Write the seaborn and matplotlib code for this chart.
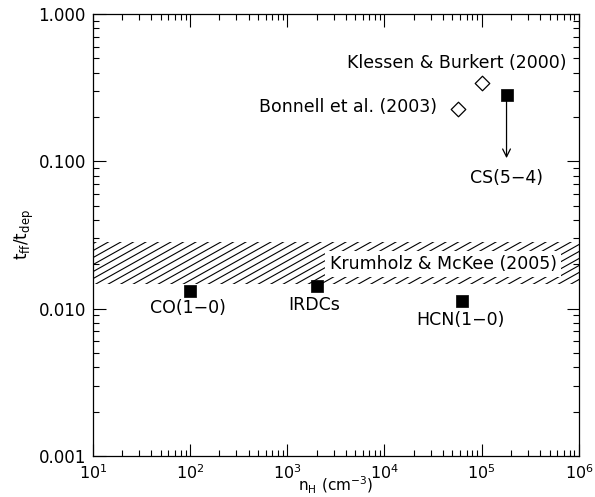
import numpy as np
import pandas as pd
import matplotlib
matplotlib.use('Agg')
import matplotlib.pyplot as plt
from matplotlib.collections import LineCollection
import seaborn as sns

# observations (filled squares)
obs_names = ['CO(1−0)', 'IRDCs', 'HCN(1−0)', 'CS(5−4)']
obs_n = [1.0e2, 2.0e3, 6.2e4, 1.8e5]
obs_ratio = [0.0132, 0.0142, 0.0113, 0.28]

# simulations (open diamonds)
sim_names = ['Klessen & Burkert (2000)', 'Bonnell et al. (2003)']
sim_n = [1.0e5, 5.7e4]
sim_ratio = [0.34, 0.225]

# theory band (Krumholz & McKee 2005)
band_name = 'Krumholz & McKee (2005)'
band_lo, band_hi = 0.0146, 0.0282
cs_limit = 0.105

sns.set_style('ticks')
plt.rcParams['font.family'] = ['DejaVu Sans']
for k in ['text.color', 'axes.labelcolor', 'xtick.color', 'ytick.color', 'axes.edgecolor']:
    plt.rcParams[k] = 'black'

obs = pd.DataFrame({'n': obs_n, 'r': obs_ratio, 'name': obs_names})
sim = pd.DataFrame({'n': sim_n, 'r': sim_ratio, 'name': sim_names})

fig = plt.figure(figsize=(5.95, 4.97), dpi=100)
ax = fig.add_axes([0.156, 0.0825, 0.817, 0.8895])

ax.set_xscale('log')
ax.set_yscale('log')
ax.set_xlim(10, 1e6)
ax.set_ylim(0.001, 1.0)

# band with shallow IDL-like hatching, clipped to the span
span = ax.axhspan(band_lo, band_hi, facecolor='none', edgecolor='none', linewidth=0)
W, H = 486.0, 442.0        # axes size in pixels
slope = 0.56 * W / H       # ~30 deg in pixel space
step = 12.5 / W
segs = [[(x0, 0.0), (x0 + 1.0 / slope, 1.0)] for x0 in np.arange(-1.5, 1.1, step)]
hatch = LineCollection(segs, colors='black', linewidths=0.8, transform=ax.transAxes, zorder=1)
ax.add_collection(hatch)
hatch.set_clip_path(span)

sns.scatterplot(data=obs, x='n', y='r', marker='s', s=65, color='black', edgecolor='black',
                linewidth=0.5, ax=ax, zorder=4)
sns.scatterplot(data=sim, x='n', y='r', marker='D', s=55, facecolor='white', edgecolor='black',
                linewidth=0.9, ax=ax, zorder=4)

# upper limit arrow for CS(5-4)
ax.annotate('', xy=(obs_n[3], cs_limit), xytext=(obs_n[3], obs_ratio[3]),
            arrowprops=dict(arrowstyle='->', color='black', lw=0.9, shrinkA=0, shrinkB=0,
                            mutation_scale=14))

fs = 12.5
ax.text(7.5e5, 0.465, sim_names[0], ha='right', va='center', fontsize=fs)
ax.text(3.5e4, 0.232, sim_names[1], ha='right', va='center', fontsize=fs)
ax.text(obs_n[3], 0.077, obs_names[3], ha='center', va='center', fontsize=fs)
ax.text(95, 0.0101, obs_names[0], ha='center', va='center', fontsize=fs)
ax.text(1.9e3, 0.0106, obs_names[1], ha='center', va='center', fontsize=fs)
ax.text(6.0e4, 0.0084, obs_names[2], ha='center', va='center', fontsize=fs)
ax.text(4.0e4, 0.0201, band_name, ha='center', va='center', fontsize=fs,
        bbox=dict(facecolor='white', edgecolor='none', pad=3), zorder=3)

ax.set_yticks([0.001, 0.01, 0.1, 1.0])
ax.set_yticklabels(['0.001', '0.010', '0.100', '1.000'])
ax.tick_params(which='both', direction='in', top=True, right=True, labelsize=12)
ax.tick_params(which='major', length=9, width=0.8)
ax.tick_params(which='minor', length=4.5, width=0.8)
ax.tick_params(axis='x', which='major', pad=5, labelsize=11.5)
ax.tick_params(axis='y', which='major', pad=5)
for sp in ax.spines.values():
    sp.set_linewidth(0.9)

ax.set_xlabel(r'n$_{\rm H}$ (cm$^{-3}$)', fontsize=11, labelpad=-5)
ax.set_ylabel(r't$_{\rm ff}$/t$_{\rm dep}$', fontsize=12, labelpad=2)

fig.savefig('out.png', dpi=100)
